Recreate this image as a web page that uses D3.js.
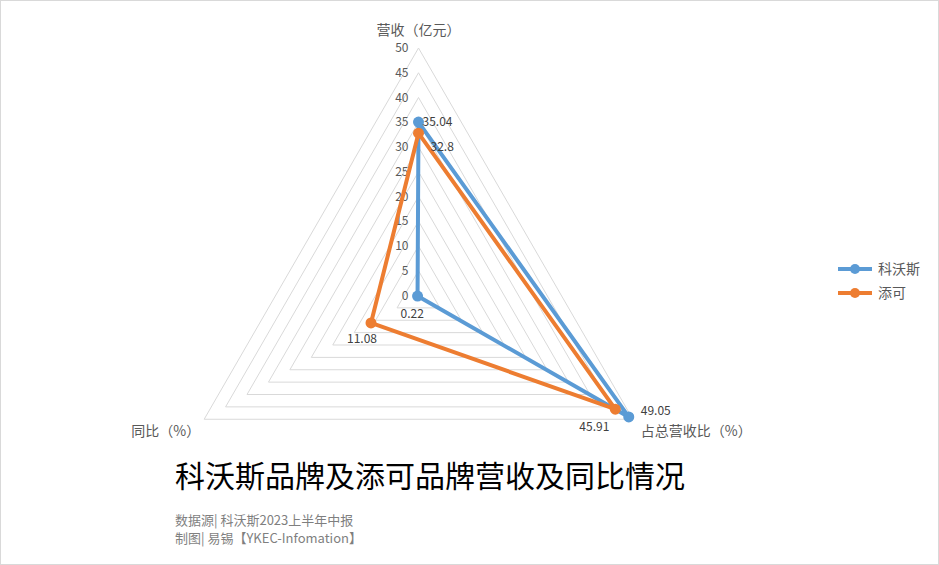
<!DOCTYPE html>
<html><head><meta charset="utf-8">
<script src="https://cdn.jsdelivr.net/npm/d3@7"></script>
<style>body{margin:0;background:#fff}svg{display:block}text{font-family:"Noto Sans CJK SC","Microsoft YaHei",sans-serif}</style>
</head><body>
<script>
const axes = ["营收（亿元）", "占总营收比（%）", "同比（%）"];
const seriesNames = ["科沃斯", "添可"];
const kovosValues = [35.04, 49.05, 0.22];
const tinecoValues = [32.8, 45.91, 11.08];
const tickValues = [0, 5, 10, 15, 20, 25, 30, 35, 40, 45, 50];
const title = "科沃斯品牌及添可品牌营收及同比情况";
const footer = ["数据源| 科沃斯2023上半年中报", "制图| 易锡【YKEC-Infomation】"];

const colors = ["#5B9BD5", "#ED7D31"];
const W = 939, H = 565, cx = 418.5, cy = 295.5, R = 247.5;
const svg = d3.select("body").append("svg").attr("width", W).attr("height", H);
svg.append("rect").attr("x", 0.5).attr("y", 0.5).attr("width", W - 1).attr("height", H - 1)
  .attr("fill", "#fff").attr("stroke", "#d9d9d9");

const r = d3.scaleLinear().domain([0, 50]).range([0, R]);
const ang = d3.scaleLinear().domain([0, axes.length]).range([0, 2 * Math.PI]);
const pt = (i, v) => [cx + r(v) * Math.sin(ang(i)), cy - r(v) * Math.cos(ang(i))];

// grid
const grid = svg.append("g");
tickValues.slice(1).forEach(t => {
  grid.append("path")
    .attr("d", d3.line()(axes.map((a, i) => pt(i, t))) + "Z")
    .attr("fill", "none").attr("stroke", "#d9d9d9").attr("stroke-width", 1);
});
// tick labels
svg.append("g").selectAll("text").data(tickValues).join("text")
  .attr("x", cx - 10).attr("y", d => cy - r(d)).attr("dy", "0.35em")
  .attr("text-anchor", "end").attr("font-size", 12).attr("fill", "#595959")
  .text(d => d);

// axis labels
const axisLabelPos = [{dx: 0, dy: -18, anchor: "middle"}, {dx: 8, dy: 12, anchor: "start"}, {dx: -4, dy: 12, anchor: "end"}];
svg.append("g").selectAll("text").data(axes).join("text")
  .attr("x", (d, i) => pt(i, 50)[0] + axisLabelPos[i].dx)
  .attr("y", (d, i) => pt(i, 50)[1] + axisLabelPos[i].dy)
  .attr("dy", "0.35em").attr("text-anchor", (d, i) => axisLabelPos[i].anchor)
  .attr("font-size", 14).attr("fill", "#595959").text(d => d);

// series
const allSeries = [kovosValues, tinecoValues];
const labelOff = [
  [[4, 0, "start"], [12, -6, "start"], [-17, 18, "start"]],
  [[12, 14, "start"], [-6, 18, "end"], [-24, 16, "start"]]
];
allSeries.forEach((vals, s) => {
  const g = svg.append("g");
  const pts = vals.map((v, i) => pt(i, v));
  g.append("path").attr("d", d3.line()(pts) + "Z")
    .attr("fill", "none").attr("stroke", colors[s]).attr("stroke-width", 4)
    .attr("stroke-linejoin", "round");
  g.selectAll("circle").data(pts).join("circle")
    .attr("cx", d => d[0]).attr("cy", d => d[1]).attr("r", 5.5).attr("fill", colors[s]);
});
allSeries.forEach((vals, s) => {
  svg.append("g").selectAll("text").data(vals).join("text")
    .attr("x", (v, i) => pt(i, v)[0] + labelOff[s][i][0])
    .attr("y", (v, i) => pt(i, v)[1] + labelOff[s][i][1])
    .attr("dy", "0.35em").attr("text-anchor", (v, i) => labelOff[s][i][2])
    .attr("font-size", 12).attr("fill", "#404040").text(v => v);
});

// legend
const lg = svg.append("g").selectAll("g").data(seriesNames).join("g")
  .attr("transform", (d, i) => `translate(838,${269 + i * 24})`);
lg.append("line").attr("x1", 0).attr("x2", 34).attr("stroke", (d, i) => colors[i]).attr("stroke-width", 4);
lg.append("circle").attr("cx", 17).attr("r", 5).attr("fill", (d, i) => colors[i]);
lg.append("text").attr("x", 40).attr("dy", "0.35em").attr("font-size", 14).attr("fill", "#595959").text(d => d);

// title & footer
svg.append("text").attr("x", 175).attr("y", 476).attr("dy", "0.35em")
  .attr("font-size", 30).attr("fill", "#000").text(title);
svg.append("g").selectAll("text").data(footer).join("text")
  .attr("x", 175).attr("y", (d, i) => 520 + i * 18).attr("dy", "0.35em")
  .attr("font-size", 13).attr("fill", "#7f7f7f").text(d => d);
</script>
</body></html>
